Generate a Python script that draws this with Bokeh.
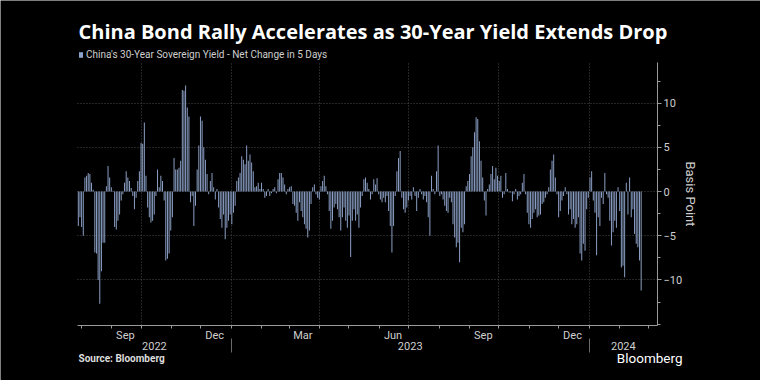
import pandas as pd
from bokeh.plotting import figure
from bokeh.models import (Range1d, LinearAxis, FixedTicker, Grid, Label, Legend,
                          LegendItem, ColumnDataSource)
from bokeh.embed import file_html
from bokeh.resources import INLINE

# ---------------- data ----------------
first_bar_date = "2022-07-29"
last_bar_date = "2024-02-23"

net_change_bp = [
    -3.9, -2.9, -4.0, -5.0, 1.6, 1.8, 2.1, 2.0, 1.0, 0.2, -6.9, -7.0, -10.0, -12.7, -9.0, -5.8, -5.8,
    0.6, 2.9, 1.6, 0.5, 0.1, -4.0, -4.3, -3.3, -2.6, -1.0, -0.3, 1.0, 2.3, 1.6, 1.2, 0.4, -0.5, -2.0,
    -0.7, 1.2, 2.3, 5.5, 5.4, 7.8, 1.8, -1.8, -2.9, -3.5, -3.3, -2.6, -0.5, 2.5, 0.5, 1.8, 1.2, -1.0,
    -7.8, -7.6, -7.0, -4.4, -2.9,
    3.8, 2.5, 2.5, 2.7, 3.5, 11.5, 11.4, 12.0, 9.5, 8.5, -1.2, -0.5, -3.9, -1.6, 2.5, 5.2, 8.5, 8.0,
    5.0, 3.6, 2.0, -0.3, 1.2, 2.1, 0.5, -0.9, 0.3, -1.8, -3.1, -4.1, -2.6, -5.4, -4.1, -3.3, -2.6,
    -3.7, -2.4, -1.6, 1.2, 1.6, 2.1, 4.0, 3.6, 3.1, 5.2, 3.5, 4.2, 3.3, 2.3, 0.5, 0.6, 1.0, 0.3, 1.0,
    0.3, -0.7, -0.5, 0.3,
    -0.5, -0.2, 0.3, 0.5, -0.2, 1.4, 2.1, 2.1, 1.6, 0.8, -0.3, 0.3, 0.5, 0.6, -1.4, -1.6, -2.4, -3.3,
    -1.2, -2.2, -2.9, -3.7, -4.2, -5.2, -4.4, -1.4, 0.5, 0.8, -0.3, -0.7, -0.9, 0.6, 1.2, 1.8, 0.6,
    -0.3, -2.2, -4.2, -3.3, -1.8, -1.4, -2.0, -2.9, -4.4, -2.9, -1.8, -3.3, -4.1, -2.7, -7.4, -3.3,
    -2.0, -3.3, -2.6, -4.1, -1.8, -0.5, 1.4,
    1.6, 1.0, 0.3, -0.9, -0.3, 1.4, 0.8, 1.5, -0.3, -0.9, -1.2, -0.7, -1.2, -0.5, -2.2, -3.9, -6.9,
    -3.9, -0.5, 2.3, 3.8, 4.6, -0.7, -2.0, -2.4, -1.8, -1.0, -0.5, -0.9, 0.5, -0.5, -2.2, -0.7, 0.3,
    -0.3, -0.9, -0.5, -1.2, -2.9, -5.0, 1.8, 0.3, -0.3, 2.3, 5.2, -0.5, -0.3, -0.9, -1.6, -2.2, -2.4,
    -0.7, -1.2, -3.7, -5.2, -6.3, -5.8, -8.0,
    -4.1, -4.6, -3.7, 0.6, 1.2, 2.0, 4.0, 5.0, 6.7, 8.4, 8.2, 5.7, 3.5, 1.6, -1.0, -2.7, 0.3, 0.8, 2.0,
    2.9, 1.4, 2.7, 1.8, 1.2, 1.8, -0.7, -0.3, 2.1, 0.3, -0.1, -0.1, -1.1, -0.3, 0.3, -0.9, -0.5, -0.3,
    1.0, 2.0, -0.3, -2.4, -3.7, -4.1, -3.1, -2.4, -2.0, -2.9, -2.7, -2.6, -1.4, -1.2, -0.7, -0.3, 0.5,
    2.5, 3.5, 4.2,
    1.6, -0.3, -2.9, -2.2, -1.0, -0.5, 0.5, -0.3, -2.6, -2.0, -3.7, -3.1, -4.1, -3.7, -2.9, -7.0, -7.8,
    -5.9, -6.7, -2.0, -0.7, 1.6, 2.3, -1.0, -2.4, -7.2, -2.9, -3.9, -0.7, -1.4, 2.1, -0.3, -0.7, -3.3,
    -6.1, -4.6, -3.3, -4.1, 0.5, -2.2, -8.6, -8.4, -9.7, 1.0, -2.6, 1.6, -2.9, -2.0, -4.8, -5.9, -6.3,
    -7.8, -11.2,
]

month_label_dates = ["2022-09-15", "2022-12-15", "2023-03-15", "2023-06-15", "2023-09-15", "2023-12-15"]
month_labels = ["Sep", "Dec", "Mar", "Jun", "Sep", "Dec"]
quarter_grid_dates = ["2022-10-01", "2023-01-01", "2023-04-01", "2023-07-01", "2023-10-01", "2024-01-01"]
year_start_dates = ["2023-01-01", "2024-01-01"]
year_labels = ["2022", "2023", "2024"]
y_ticks = [-10, -5, 0, 5, 10]
y_minor_ticks = [-15, -12.5, -7.5, -2.5, 2.5, 7.5, 12.5]

title_text = "China Bond Rally Accelerates as 30-Year Yield Extends Drop"
legend_text = "China's 30-Year Sovereign Yield - Net Change in 5 Days"
axis_title = "Basis Point"
source_text = "Source: Bloomberg"
brand_text = "Bloomberg"

# ---------------- layout constants (pixels of the 760x380 canvas) ----------------
W, H = 760, 380
PL, PR, PT, PB = 77, 657, 62, 325          # plot area edges
Y_LO, Y_HI = -15.15, 14.6                   # value range of plot area


def ms(d):
    return pd.Timestamp(d).value / 1e6


DAY = 86400000.0
x_lo = ms("2022-07-28 04:00")
x_hi = ms("2024-03-10 16:00")
kx = (x_hi - x_lo) / (PR - PL)             # ms per pixel
ky = (Y_HI - Y_LO) / (PB - PT)             # value per pixel


def ydata(py):
    """canvas pixel row -> value coordinate"""
    return Y_HI - (py - PT) * ky


dates = pd.date_range(first_bar_date, last_bar_date, periods=len(net_change_bp))
src = ColumnDataSource(data=dict(x=[ms(d) for d in dates], y=net_change_bp))

BAR = "#8da2c8"
FONT = "Roboto"
TXT = "#cfcfcf"
GRID = "#4a4a4a"
AX = "#9a9a9a"

p = figure(width=W, height=H, output_backend="svg", toolbar_location=None,
           x_range=Range1d(x_lo - PL * kx, x_hi + (W - PR) * kx),
           y_range=Range1d(ydata(H), ydata(0)),
           x_axis_type=None, y_axis_type=None,
           background_fill_color="black", border_fill_color="black",
           outline_line_color=None,
           min_border_left=0, min_border_right=0, min_border_top=0, min_border_bottom=0)

# grid lines (limited to the plot area)
has_cb = "cross_bounds" in Grid.properties()
qticks = [ms(d) for d in quarter_grid_dates]
if has_cb:
    p.add_layout(Grid(dimension=0, ticker=FixedTicker(ticks=qticks), cross_bounds=(Y_LO, Y_HI),
                      grid_line_color=GRID, grid_line_dash="1 2"))
    p.add_layout(Grid(dimension=1, ticker=FixedTicker(ticks=y_ticks), cross_bounds=(x_lo, x_hi),
                      grid_line_color=GRID, grid_line_dash="1 2"))
else:
    p.segment(x0=qticks, x1=qticks, y0=[Y_LO] * len(qticks), y1=[Y_HI] * len(qticks),
              line_color=GRID, line_dash="1 2", line_width=1)
    p.segment(x0=[x_lo] * len(y_ticks), x1=[x_hi] * len(y_ticks), y0=y_ticks, y1=y_ticks,
              line_color=GRID, line_dash="1 2", line_width=1)

r = p.vbar(x="x", top="y", bottom=0, width=1.0 * DAY, source=src,
           fill_color=BAR, line_color=None)

# right value axis
yax = LinearAxis(ticker=FixedTicker(ticks=y_ticks, minor_ticks=y_minor_ticks),
                 fixed_location=x_hi, bounds=(Y_LO, Y_HI),
                 axis_label=axis_title,
                 axis_line_color=AX, major_tick_line_color=AX, minor_tick_line_color=AX,
                 major_tick_in=0, major_tick_out=4, minor_tick_in=0, minor_tick_out=3,
                 major_label_standoff=2, axis_label_standoff=-2,
                 major_label_text_color=TXT, major_label_text_font=FONT,
                 major_label_text_font_size="11px",
                 axis_label_text_color=TXT, axis_label_text_font=FONT,
                 axis_label_text_font_size="13px", axis_label_text_font_style="normal")
p.add_layout(yax, "right")

# month axis
month_starts = [ms(d) for d in pd.date_range("2022-08-01", "2024-03-01", freq="MS")]
mticks = [ms(d) for d in month_label_dates]
xax = LinearAxis(ticker=FixedTicker(ticks=mticks, minor_ticks=month_starts),
                 fixed_location=Y_LO, bounds=(x_lo, x_hi),
                 major_label_overrides={t: l for t, l in zip(mticks, month_labels)},
                 axis_line_color=AX, major_tick_line_color=None,
                 major_tick_in=0, major_tick_out=0,
                 minor_tick_line_color=AX, minor_tick_in=0, minor_tick_out=3,
                 major_label_standoff=0,
                 major_label_text_color=TXT, major_label_text_font=FONT,
                 major_label_text_font_size="11px")
p.add_layout(xax, "below")

# year labels
ystarts = [ms(d) for d in year_start_dates]
bounds = [x_lo] + ystarts + [x_hi]
ymids = [(a + b) / 2 for a, b in zip(bounds[:-1], bounds[1:])]
yrax = LinearAxis(ticker=FixedTicker(ticks=ymids, minor_ticks=[]),
                  fixed_location=ydata(341), bounds=(x_lo, x_hi),
                  major_label_overrides={t: l for t, l in zip(ymids, year_labels)},
                  axis_line_color=None, major_tick_line_color=None, minor_tick_line_color=None,
                  major_tick_in=0, major_tick_out=0, minor_tick_in=0, minor_tick_out=0,
                  major_label_standoff=0,
                  major_label_text_color=TXT, major_label_text_font=FONT,
                  major_label_text_font_size="11px")
p.add_layout(yrax, "below")

# year separators
sepax = LinearAxis(ticker=FixedTicker(ticks=ystarts, minor_ticks=[]),
                   fixed_location=ydata(338), bounds=(x_lo, x_hi),
                   major_label_overrides={t: "" for t in ystarts},
                   axis_line_color=None, major_tick_line_color="#6a6a6a",
                   minor_tick_line_color=None,
                   major_tick_in=0, major_tick_out=14, minor_tick_in=0, minor_tick_out=0,
                   major_label_text_font_size="1px")
p.add_layout(sepax, "below")

# texts (screen units: origin bottom-left of the canvas)
p.add_layout(Label(x=PL + 1, y=H - 31, x_units="screen", y_units="screen", text=title_text,
                   text_color="white", text_font="Open Sans", text_font_size="20px",
                   text_font_style="bold", text_baseline="middle", text_align="left"))

legend = Legend(items=[LegendItem(label=legend_text, renderers=[r])],
                location=(PL + 1, H - 61), orientation="horizontal",
                background_fill_alpha=0, border_line_color=None,
                label_text_color=TXT, label_text_font=FONT, label_text_font_size="10px",
                glyph_width=5, glyph_height=7, label_height=14, label_standoff=3,
                padding=0, margin=0, spacing=0)
p.add_layout(legend)

p.add_layout(Label(x=PL + 1, y=H - 358, x_units="screen", y_units="screen", text=source_text,
                   text_color="#dddddd", text_font=FONT, text_font_size="10px",
                   text_font_style="bold", text_baseline="middle", text_align="left"))
p.add_layout(Label(x=682, y=H - 357, x_units="screen", y_units="screen", text=brand_text,
                   text_color="white", text_font=FONT, text_font_size="13.5px",
                   text_baseline="middle", text_align="right"))

open("out.html", "w").write(file_html(p, INLINE))
